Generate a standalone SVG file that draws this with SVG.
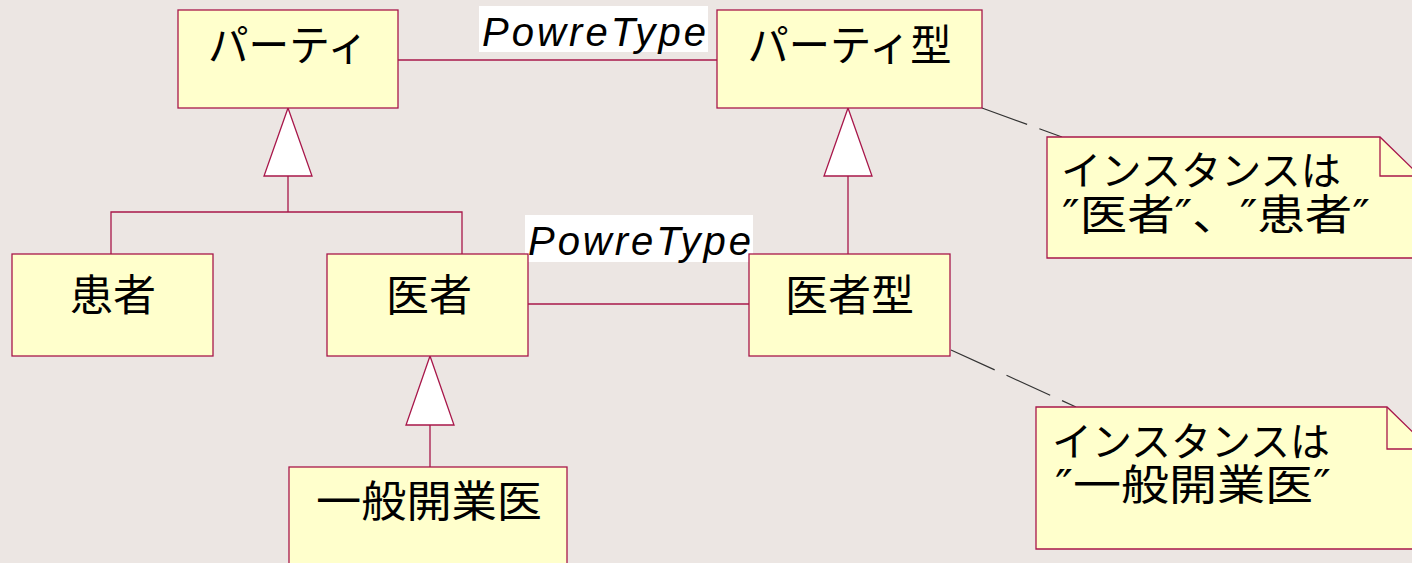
<svg xmlns="http://www.w3.org/2000/svg" width="1412" height="563" viewBox="0 0 1412 563">
<style>
.box{fill:#FFFFCC;stroke:#A8174A;stroke-width:1.3}
.ln{fill:none;stroke:#A8174A;stroke-width:1.3}
.tri{fill:#FFFFFF;stroke:#A8174A;stroke-width:1.3}
.dash{fill:none;stroke:#333333;stroke-width:1.2;stroke-dasharray:48 13}
.jp{font-family:"Noto Sans CJK JP","Noto Sans",sans-serif;font-size:43px;fill:#000}
.nt{font-family:"Noto Sans CJK JP","Noto Sans",sans-serif;font-size:40px;fill:#000}
.nq{font-family:"DejaVu Sans","Noto Sans CJK JP",sans-serif;font-size:42px;fill:#000}
.c{text-anchor:middle}
.lbl{font-family:"Liberation Sans",Arial,sans-serif;font-style:italic;font-size:40px;fill:#000}
</style>
<rect width="1412" height="563" fill="#ECE6E3"/>
<g id="connectors">
<line class="ln" x1="398" y1="60" x2="717" y2="60"/>
<line class="ln" x1="528" y1="304" x2="749" y2="304"/>
<polyline class="ln" points="288,176 288,212"/>
<polyline class="ln" points="111,254 111,212 462,212 462,254"/>
<polygon class="tri" points="288,108 312,176 264,176"/>
<line class="ln" x1="848" y1="176" x2="848" y2="254"/>
<polygon class="tri" points="848,108 872,176 824,176"/>
<line class="ln" x1="430" y1="425" x2="430" y2="467"/>
<polygon class="tri" points="430,356 454,425 406,425"/>
<line class="dash" x1="982" y1="108" x2="1062" y2="137"/>
<line class="dash" x1="951" y1="350" x2="1076" y2="407"/>
<g id="label1"><rect x="479" y="6" width="229" height="46" fill="#FFFFFF"/>
<text class="lbl" x="482" y="46" textLength="224" lengthAdjust="spacing">PowreType</text></g>
<g id="label2"><rect x="525" y="215" width="228" height="47" fill="#FFFFFF"/>
<text class="lbl" x="528" y="255" textLength="223" lengthAdjust="spacing">PowreType</text></g>
</g>
<g id="party"><rect class="box" x="178" y="10" width="220" height="98"/><text class="jp c" x="288" y="61" textLength="160" lengthAdjust="spacingAndGlyphs">パーティ</text></g>
<g id="partyType"><rect class="box" x="717" y="10" width="265" height="98"/><text class="jp c" x="849.5" y="61" textLength="204" lengthAdjust="spacingAndGlyphs">パーティ型</text></g>
<g id="patient"><rect class="box" x="12" y="254" width="201" height="102"/><text class="jp c" x="113" y="311">患者</text></g>
<g id="doctor"><rect class="box" x="327" y="254" width="201" height="102"/><text class="jp c" x="429" y="311">医者</text></g>
<g id="doctorType"><rect class="box" x="749" y="254" width="201" height="102"/><text class="jp c" x="849.5" y="311">医者型</text></g>
<g id="gp"><rect class="box" x="289" y="467" width="278" height="110"/><text class="jp c" x="429" y="517" textLength="226" lengthAdjust="spacingAndGlyphs">一般開業医</text></g>
<g id="note1"><polygon class="box" points="1047,137 1380,137 1420,176 1420,258 1047,258"/><polyline class="ln" points="1380,137 1380,176 1420,176"/>
<text class="nt" x="1061" y="185" textLength="280" lengthAdjust="spacingAndGlyphs">インスタンスは</text><text class="nq" x="1062" y="230" textLength="308" lengthAdjust="spacingAndGlyphs">″医者″、″患者″</text></g>
<g id="note2"><polygon class="box" points="1036,407 1387,407 1430,449 1430,549 1036,549"/><polyline class="ln" points="1387,407 1387,449 1430,449"/>
<text class="nt" x="1052" y="456" textLength="278" lengthAdjust="spacingAndGlyphs">インスタンスは</text><text class="nq" x="1055" y="500" textLength="276" lengthAdjust="spacingAndGlyphs">″一般開業医″</text></g>
</svg>
